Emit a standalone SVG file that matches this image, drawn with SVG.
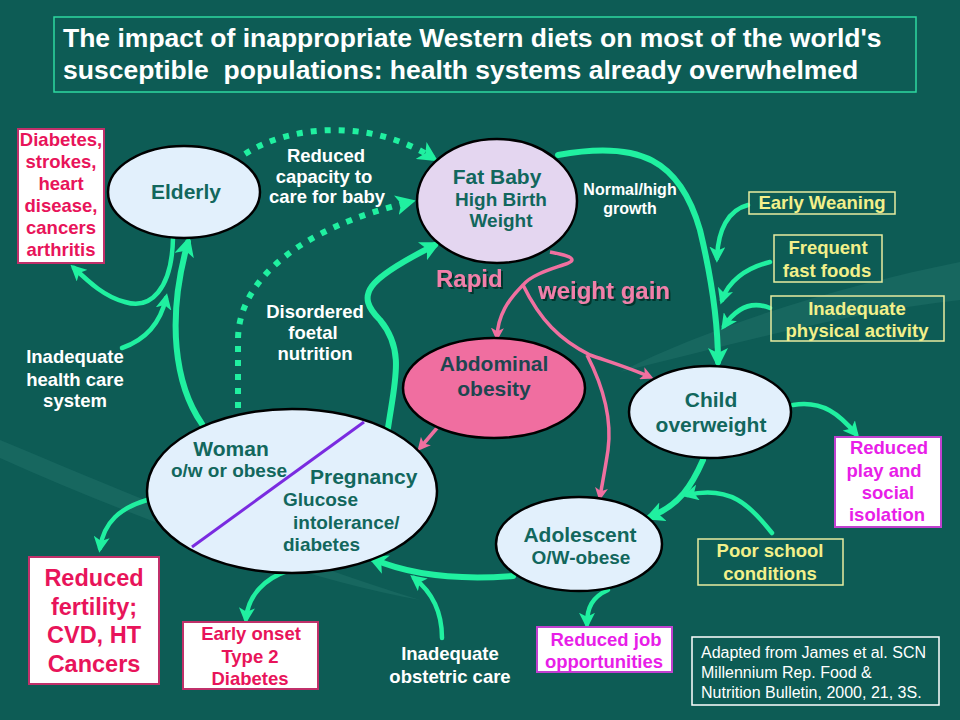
<svg xmlns="http://www.w3.org/2000/svg" width="960" height="720" viewBox="0 0 960 720">
<defs>
<marker id="ga" viewBox="0 0 10 10" refX="7" refY="5" markerWidth="20" markerHeight="20" orient="auto" markerUnits="userSpaceOnUse"><path d="M0,0 L10,5 L0,10 L2.5,5 z" fill="#20f0a0"/></marker>
<marker id="gs" viewBox="0 0 10 10" refX="7" refY="5" markerWidth="16" markerHeight="16" orient="auto" markerUnits="userSpaceOnUse"><path d="M0,0 L10,5 L0,10 L2.5,5 z" fill="#20f0a0"/></marker>
<marker id="pa" viewBox="0 0 10 10" refX="7" refY="5" markerWidth="13" markerHeight="13" orient="auto" markerUnits="userSpaceOnUse"><path d="M0,0 L10,5 L0,10 L2.5,5 z" fill="#f070a0"/></marker>
<filter id="sh" x="-10%" y="-20%" width="130%" height="150%"><feDropShadow dx="2" dy="2" stdDeviation="0.5" flood-color="#06302c" flood-opacity="0.9"/></filter>
</defs>
<style>
text{font-family:"Liberation Sans",Arial,sans-serif;font-weight:bold;text-anchor:middle}
.title{fill:#ffffff;font-size:26.5px;text-anchor:start}
.wl{fill:#ffffff;font-size:18.5px}
.ws{fill:#ffffff;font-size:16px}
.node{fill:#e2f0fc;stroke:#000;stroke-width:2.5}
.nt{fill:#12675d;font-size:21px}
.nts{fill:#12675d;font-size:19px}
.red{fill:#e8145a;font-size:18.5px}
.redbig{fill:#e8145a;font-size:23.5px}
.mag{fill:#e81ee8;font-size:18.5px}
.yel{fill:#f2f08a;font-size:18.5px}
.src{fill:#ffffff;font-size:16px;font-weight:normal;text-anchor:start}
.wbox{fill:#ffffff;stroke:#c0306a;stroke-width:2}
.mbox{fill:#ffffff;stroke:#c040d0;stroke-width:2}
.ybox{fill:none;stroke:#e8eca0;stroke-width:1.5}
.g{fill:none;stroke:#20f0a0;stroke-width:6;stroke-linecap:round}
.gt{fill:none;stroke:#20f0a0;stroke-width:4.5;stroke-linecap:round}
.gd{fill:none;stroke:#20f0a0;stroke-width:6;stroke-dasharray:6 8}
.p{fill:none;stroke:#f070a0;stroke-width:3.5}
.pk{fill:#f080aa;font-size:24px;text-anchor:start}
</style>
<rect x="0" y="0" width="960" height="720" fill="#0d5c55"/>
<path d="M0,440 C120,490 260,550 420,600 C300,578 150,525 0,458 z" fill="#2a7a72" opacity="0.35"/>
<path d="M620,372 C720,322 850,284 960,262 L960,300 C850,312 740,342 620,372 z" fill="#2a7a72" opacity="0.35"/>
<rect x="54" y="17" width="862" height="75" fill="none" stroke="#2ed8a0" stroke-width="1.5"/>
<text class="title" x="63" y="47">The impact of inappropriate Western diets on most of the world's</text>
<text class="title" x="63" y="79" xml:space="preserve">susceptible  populations: health systems already overwhelmed</text>

<g id="connectors">
<path class="gd" d="M245,154 C290,125 370,118 433,158" marker-end="url(#ga)"/>
<path class="gd" d="M238,408 L238,340 C238,280 300,228 410,202" marker-end="url(#ga)"/>
<path class="g" d="M202,424 C175,385 166,320 188,242" marker-end="url(#ga)"/>
<path class="gt" d="M173,238 C172,290 150,310 125,302 C105,297 90,283 74,268" marker-end="url(#gs)"/>
<path class="gt" d="M122,348 C145,340 160,325 166,298" marker-end="url(#gs)"/>
<path class="g" d="M388,428 C395,380 405,350 380,320 C355,295 365,280 435,245" marker-end="url(#ga)"/>
<path class="g" d="M558,155 C640,140 680,160 700,230 C712,280 718,320 718,362" marker-end="url(#ga)"/>
<path class="gt" d="M748,205 C728,210 718,230 717,258" marker-end="url(#gs)"/>
<path class="gt" d="M770,262 C745,268 728,282 722,300" marker-end="url(#gs)"/>
<path class="gt" d="M770,308 C750,300 735,310 724,326" marker-end="url(#gs)"/>
<path class="gt" d="M793,405 C823,400 840,415 856,434" marker-end="url(#gs)"/>
<path class="g" d="M703,460 C692,485 680,505 650,517" marker-end="url(#ga)"/>
<path class="gt" d="M772,533 C750,505 730,485 687,495" marker-end="url(#gs)"/>
<path class="gt" d="M608,590 C592,597 587,608 587,624" marker-end="url(#gs)"/>
<path class="g" d="M513,576 C460,580 410,575 373,559" marker-end="url(#ga)"/>
<path class="gt" d="M442,638 C442,612 432,592 414,578" marker-end="url(#gs)"/>
<path class="gt" d="M290,570 C265,578 248,595 246,619" marker-end="url(#gs)"/>
<path class="gt" d="M147,500 C120,508 104,522 100,548" marker-end="url(#gs)"/>
<path class="p" d="M550,252 C560,254 572,256 572,260 C572,265 535,270 523,285 C508,300 498,315 497,337" marker-end="url(#pa)"/>
<path class="p" d="M523,285 C540,320 560,340 590,355 C610,362 630,368 650,377" marker-end="url(#pa)"/>
<path class="p" d="M587,355 C605,390 612,420 608,450 C605,470 602,485 600,497" marker-end="url(#pa)"/>
<path class="p" d="M437,428 L420,448" marker-end="url(#pa)"/>
</g>

<g id="diabetes-box">
<rect class="wbox" x="18" y="129" width="86" height="134"/>
<text class="red" x="61" y="146">Diabetes,</text>
<text class="red" x="61" y="168">strokes,</text>
<text class="red" x="61" y="190">heart</text>
<text class="red" x="61" y="212">disease,</text>
<text class="red" x="61" y="234">cancers</text>
<text class="red" x="61" y="256">arthritis</text>
</g>
<g id="elderly">
<ellipse class="node" cx="184" cy="192" rx="76" ry="46"/>
<text class="nt" x="186" y="199">Elderly</text>
</g>
<g id="fat-baby">
<ellipse class="node" cx="497" cy="201" rx="80" ry="62" style="fill:#e4d6f0"/>
<text class="nt" x="497" y="184">Fat Baby</text>
<text class="nts" x="501" y="206">High Birth</text>
<text class="nts" x="501" y="227">Weight</text>
</g>
<g id="abdominal">
<ellipse class="node" cx="494" cy="388" rx="91" ry="50" style="fill:#f06ea0"/>
<text class="nt" x="494" y="371" style="fill:#1e4650">Abdominal</text>
<text class="nt" x="494" y="396" style="fill:#1e4650">obesity</text>
</g>
<g id="child">
<ellipse class="node" cx="710" cy="412" rx="81" ry="46"/>
<text class="nt" x="711" y="407">Child</text>
<text class="nt" x="711" y="432">overweight</text>
</g>
<g id="adolescent">
<ellipse class="node" cx="579" cy="544" rx="83" ry="47"/>
<text class="nt" x="580" y="542">Adolescent</text>
<text class="nts" x="581" y="564">O/W-obese</text>
</g>
<g id="woman">
<ellipse class="node" cx="292" cy="491" rx="145" ry="82"/>
<line x1="192" y1="547" x2="364" y2="422" stroke="#7a2be0" stroke-width="3"/>
<text class="nt" x="231" y="456">Woman</text>
<text class="nts" x="229" y="477">o/w or obese</text>
<text class="nt" x="310" y="484" style="text-anchor:start">Pregnancy</text>
<text class="nts" x="283" y="506" style="text-anchor:start">Glucose</text>
<text class="nts" x="293" y="529" style="text-anchor:start">intolerance/</text>
<text class="nts" x="283" y="551" style="text-anchor:start">diabetes</text>
</g>
<g id="reduced-fertility">
<rect class="wbox" x="29" y="557" width="130" height="127"/>
<text class="redbig" x="94" y="586">Reduced</text>
<text class="redbig" x="94" y="615">fertility;</text>
<text class="redbig" x="94" y="643">CVD, HT</text>
<text class="redbig" x="94" y="672">Cancers</text>
</g>
<g id="early-onset">
<rect class="wbox" x="183" y="622" width="135" height="67"/>
<text class="red" x="251" y="640">Early onset</text>
<text class="red" x="250" y="663">Type 2</text>
<text class="red" x="250" y="685">Diabetes</text>
</g>
<g id="obstetric">
<text class="wl" x="450" y="660">Inadequate</text>
<text class="wl" x="450" y="683">obstetric care</text>
</g>
<g id="reduced-job">
<rect class="mbox" x="537" y="627" width="135" height="45"/>
<text class="mag" x="606" y="646">Reduced job</text>
<text class="mag" x="604" y="668">opportunities</text>
</g>
<g id="source">
<rect x="692" y="637" width="247" height="68" fill="none" stroke="#ffffff" stroke-width="1.5"/>
<text class="src" x="701" y="658">Adapted from James et al. SCN</text>
<text class="src" x="701" y="678">Millennium Rep. Food &amp;</text>
<text class="src" x="701" y="698">Nutrition Bulletin, 2000, 21, 3S.</text>
</g>
<g id="poor-school">
<rect class="ybox" x="698" y="539" width="145" height="46"/>
<text class="yel" x="770" y="557">Poor school</text>
<text class="yel" x="770" y="580">conditions</text>
</g>
<g id="reduced-play">
<rect class="mbox" x="835" y="437" width="106" height="90"/>
<text class="mag" x="889" y="454">Reduced</text>
<text class="mag" x="884" y="477">play and</text>
<text class="mag" x="888" y="499">social</text>
<text class="mag" x="887" y="521">isolation</text>
</g>
<g id="early-weaning">
<rect class="ybox" x="749" y="192" width="146" height="22"/>
<text class="yel" x="822" y="209">Early Weaning</text>
</g>
<g id="fast-foods">
<rect class="ybox" x="774" y="235" width="108" height="47"/>
<text class="yel" x="828" y="254">Frequent</text>
<text class="yel" x="827" y="277">fast foods</text>
</g>
<g id="physical-activity">
<rect class="ybox" x="771" y="296" width="173" height="45"/>
<text class="yel" x="857" y="315">Inadequate</text>
<text class="yel" x="857" y="337">physical activity</text>
</g>
<g id="labels">
<text class="wl" x="326" y="162">Reduced</text>
<text class="wl" x="324" y="183">capacity to</text>
<text class="wl" x="327" y="203">care for baby</text>
<text class="ws" x="630" y="195">Normal/high</text>
<text class="ws" x="630" y="214">growth</text>
<text class="wl" x="315" y="318">Disordered</text>
<text class="wl" x="313" y="339">foetal</text>
<text class="wl" x="315" y="360">nutrition</text>
<text class="wl" x="75" y="363">Inadequate</text>
<text class="wl" x="75" y="386">health care</text>
<text class="wl" x="75" y="407">system</text>
<text class="pk" x="436" y="287" filter="url(#sh)">Rapid</text>
<text class="pk" x="538" y="299" filter="url(#sh)">weight gain</text>
</g>
</svg>
